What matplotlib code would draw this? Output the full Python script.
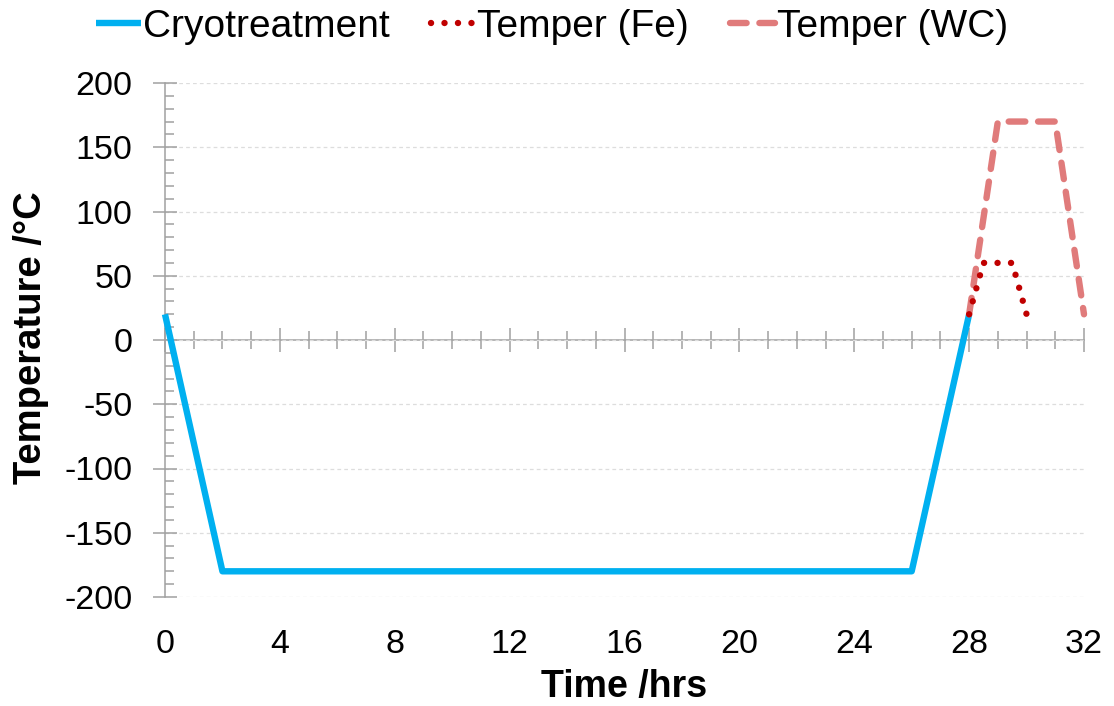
import matplotlib
matplotlib.use("Agg")
import matplotlib.pyplot as plt
from matplotlib.ticker import MultipleLocator, FixedLocator, NullFormatter

plt.rcParams['font.family'] = ['Liberation Sans', 'DejaVu Sans']
plt.rcParams['axes.unicode_minus'] = False

# ---- data ----
cryo_t = [0, 2, 26, 28]
cryo_T = [20, -180, -180, 20]
fe_t = [28, 28.5, 29.5, 30]
fe_T = [20, 60, 60, 20]
wc_t = [28, 29, 31, 32]
wc_T = [20, 170, 170, 20]
x_ticks = [0, 4, 8, 12, 16, 20, 24, 28, 32]
y_ticks = [-200, -150, -100, -50, 0, 50, 100, 150, 200]

CRYO = '#00B0F0'
FE = '#C00000'
WC = '#E07B7B'
AXC = '#A0A0A0'

fig = plt.figure(figsize=(11.14, 7.06), dpi=100)
ax = fig.add_axes([165/1114, 1-597/706, (1084-165)/1114, (597-83)/706])

lw = 4.6
ax.plot(cryo_t, cryo_T, color=CRYO, lw=lw, solid_capstyle='butt', clip_on=False,
        zorder=3, label='Cryotreatment')
ax.plot(fe_t, fe_T, color=FE, lw=lw, linestyle=(0, (0.01, 2.1)),
        dash_capstyle='round', clip_on=False, zorder=5, label='Temper (Fe)')
ax.plot(wc_t, wc_T, color=WC, lw=lw, linestyle=(0, (2.6, 2.0)),
        dash_capstyle='round', solid_joinstyle='round', clip_on=False, zorder=4,
        label='Temper (WC)')

ax.set_xlim(0, 32)
ax.set_ylim(-200, 200)

# y axis
ax.yaxis.set_major_locator(FixedLocator(y_ticks))
ax.yaxis.set_minor_locator(MultipleLocator(10))
ax.tick_params(axis='y', which='major', direction='inout', length=17, width=1.1,
               color=AXC, labelsize=24.5, pad=15)
ax.tick_params(axis='y', which='minor', direction='in', length=6.5, width=1.1,
               color=AXC)
ax.yaxis.grid(True, which='major', color='#DDDDDD', linestyle=(0, (3, 2.5)), lw=0.9)

# x labels at bottom (no ticks)
ax.xaxis.set_major_locator(FixedLocator(x_ticks))
ax.tick_params(axis='x', which='both', length=0, labelsize=24.5, pad=23)

for s in ['top', 'right', 'bottom']:
    ax.spines[s].set_visible(False)
ax.spines['left'].set_color(AXC)
ax.spines['left'].set_linewidth(1.1)

# zero axis with ticks
sec = ax.secondary_xaxis(0, transform=ax.transData)
sec.xaxis.set_major_locator(FixedLocator(x_ticks))
sec.xaxis.set_minor_locator(MultipleLocator(1))
sec.xaxis.set_major_formatter(NullFormatter())
sec.tick_params(axis='x', which='major', direction='inout', length=17, width=1.1,
                color=AXC)
sec.tick_params(axis='x', which='minor', direction='inout', length=13, width=1.1,
                color=AXC)
sec.spines['bottom'].set_color(AXC)
sec.spines['bottom'].set_linewidth(1.1)
for s in ['top', 'left', 'right']:
    sec.spines[s].set_visible(False)

ax.set_xlabel('Time /hrs', fontsize=27, fontweight='bold', va='center')
ax.xaxis.set_label_coords(0.5, -0.176)
ax.set_ylabel('Temperature /°C', fontsize=27.5, fontweight='bold', va='center')
ax.yaxis.set_label_coords((31-165)/919, 0.505)

fig.legend(loc='center', bbox_to_anchor=(552/1114, 1-27/706), ncol=3, frameon=False,
           fontsize=28, handlelength=1.15, handletextpad=0.05, columnspacing=1.05,
           borderaxespad=0)

fig.savefig('out.png', dpi=100)
